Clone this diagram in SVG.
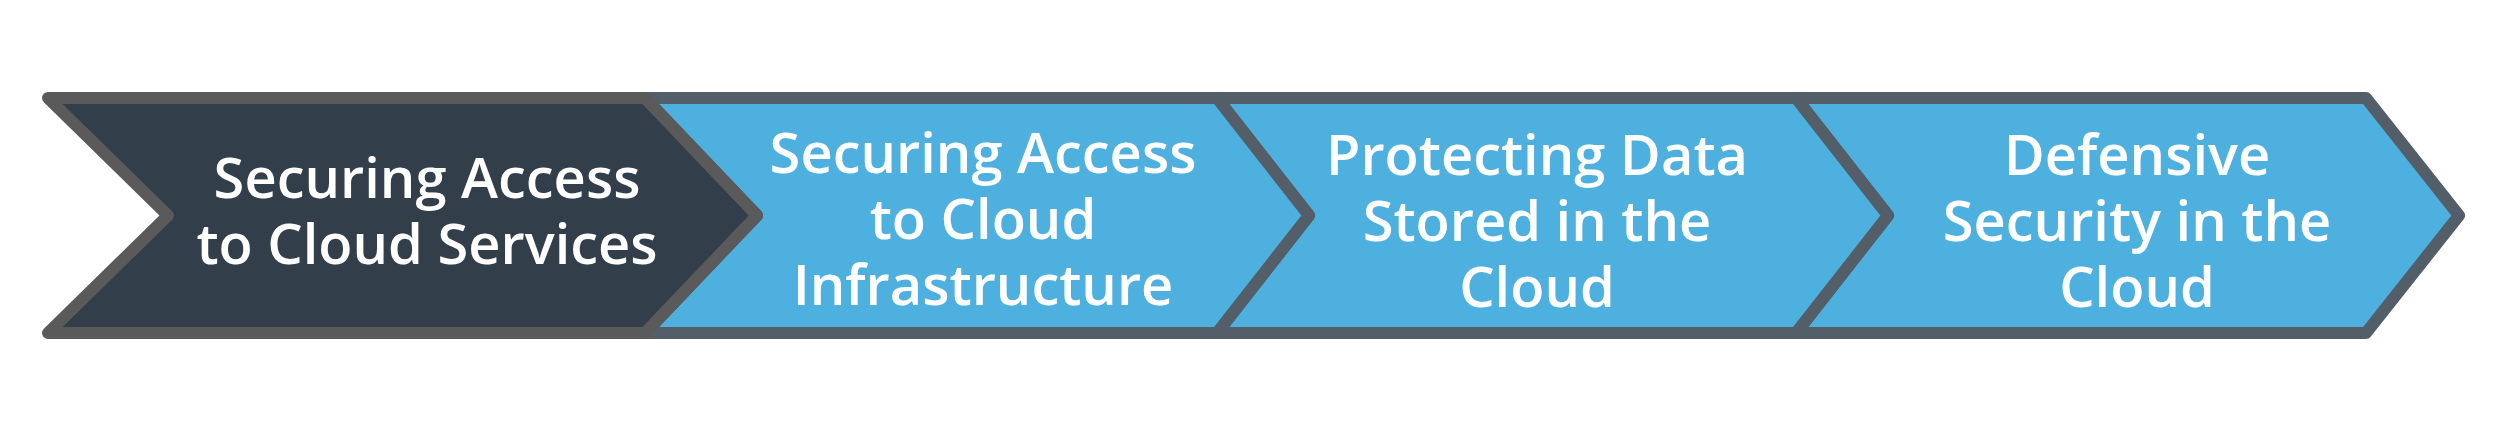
<svg xmlns="http://www.w3.org/2000/svg" width="2510" height="434" viewBox="0 0 2510 434">
<style>
.blue{fill:#4eb0de;stroke:#545e68;stroke-width:12;stroke-linejoin:round}
.dark{fill:#323e4a;stroke:#5a5a5a;stroke-width:12;stroke-linejoin:round}
.lbl{font-family:"Open Sans","Liberation Sans",sans-serif;font-size:56px;font-weight:600;fill:#ffffff;text-anchor:middle}
</style>
<rect width="2510" height="434" fill="#ffffff"/>
<g id="step4">
<polygon class="blue" points="1796,98 2366,98 2459,215.5 2366,333 1796,333 1888,215.5"/>
<text class="lbl" x="2137" y="175">Defensive</text>
<text class="lbl" x="2137" y="241">Security in the</text>
<text class="lbl" x="2137" y="307">Cloud</text>
</g>
<g id="step3">
<polygon class="blue" points="1217,98 1796,98 1888,215.5 1796,333 1217,333 1309,215.5"/>
<text class="lbl" x="1537" y="175">Protecting Data</text>
<text class="lbl" x="1537" y="241">Stored in the</text>
<text class="lbl" x="1537" y="307">Cloud</text>
</g>
<g id="step2">
<polygon class="blue" points="645,98 1217,98 1309,215.5 1217,333 645,333 757,215.5"/>
<text class="lbl" x="983" y="173">Securing Access</text>
<text class="lbl" x="983" y="239">to Cloud</text>
<text class="lbl" x="983" y="305">Infrastructure</text>
</g>
<g id="step1">
<polygon class="dark" points="48,98 645,98 757,215.5 645,333 48,333 168,215.5"/>
<text class="lbl" x="427" y="198">Securing Access</text>
<text class="lbl" x="427" y="264">to Cloud Services</text>
</g>
<g id="connectors"/>
</svg>
